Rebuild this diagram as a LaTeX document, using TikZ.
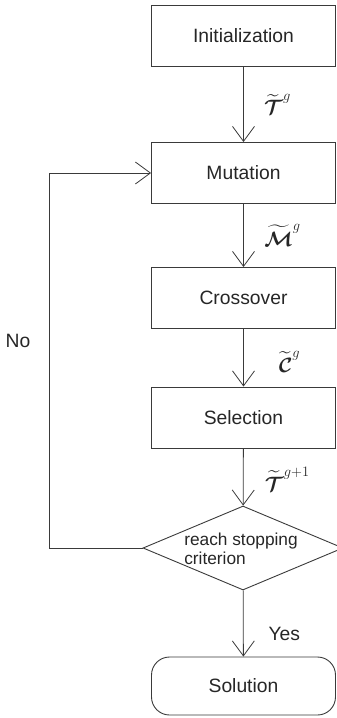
\documentclass[tikz,border=0pt]{standalone}
\usepackage{amsmath,bm}
\usepackage[no-math]{fontspec}
\setmainfont{Liberation Sans}
\usetikzlibrary{arrows.meta,shapes.geometric}
\definecolor{ln}{HTML}{3A3A3A}
\definecolor{tx}{HTML}{262626}
\tikzset{
  stepbox/.style={draw=ln,line width=0.9pt,minimum width=184pt,minimum height=61pt,inner sep=0pt,text=tx,font=\fontsize{19.3}{23}\selectfont},
  endbox/.style={stepbox,rounded corners=18pt,minimum height=58pt},
  decision/.style={draw=ln,line width=0.9pt,diamond,minimum width=200pt,minimum height=84pt,inner sep=0pt},
  flow/.style={draw=ln,line width=0.8pt,-{Straight Barb[length=15pt,width=22pt,line width=0.8pt]}},
  mlabel/.style={text=tx,font=\fontsize{20}{24}\selectfont,inner sep=0pt},
  plabel/.style={text=tx,font=\fontsize{19.3}{23}\selectfont,inner sep=0pt}
}
\begin{document}
\begin{tikzpicture}[x=1pt,y=-1pt]
\useasboundingbox (0,0) rectangle (337,718);
\clip (0,0) rectangle (337,718);
\node[stepbox] (init) at (243.5,36) {Initialization};
\node[stepbox] (mut) at (243.5,173) {Mutation};
\node[stepbox] (cross) at (243.5,298) {Crossover};
\node[stepbox] (sel) at (243.5,417.5) {Selection};
\node[decision] (dec) at (243,548) {};
\node[text=tx,font=\fontsize{17.3}{19.5}\selectfont,align=left,inner sep=0pt] (dectext) at (241,549) {reach stopping\\criterion};
\node[endbox] (sol) at (243.5,686) {Solution};
\coordinate (loop) at (49,548);

\draw[flow] (init) -- (mut) node[mlabel,midway,xshift=34pt] (l1) {$\widetilde{\bm{\mathcal{T}}}^{\scriptstyle g}$};
\draw[flow] (mut) -- (cross) node[mlabel,midway,xshift=39pt] (l2) {$\widetilde{\bm{\mathcal{M}}}^{\scriptstyle g}$};
\draw[flow] (cross) -- (sel) node[mlabel,midway,xshift=46pt,yshift=-4pt] (l3) {$\widetilde{\bm{\mathcal{C}}}^{\scriptstyle g}$};
\draw[flow] (sel) -- (dec) node[mlabel,midway,xshift=44pt,yshift=-2pt] (l4) {$\widetilde{\bm{\mathcal{T}}}^{\scriptstyle g+1}$};
\draw[flow] (dec) -- (sol) node[plabel,midway,xshift=41pt,yshift=-10pt] (yes) {Yes};
\draw[flow] (dec.west) -- (loop) |- (mut.west);
\node[plabel] (no) at (18,341) {No};
\end{tikzpicture}
\end{document}
